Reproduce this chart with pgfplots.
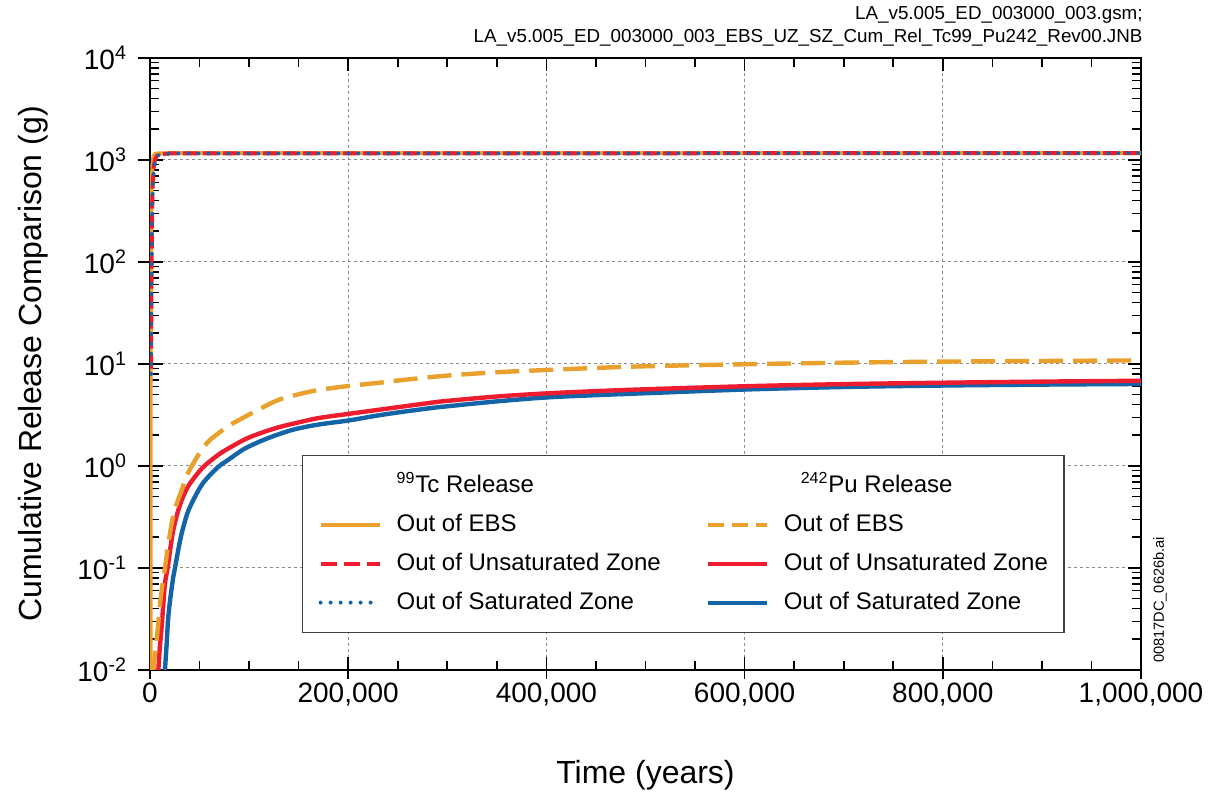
\documentclass[border=0pt]{standalone}
\usepackage{pgfplots}
\pgfplotsset{compat=1.18}
\usepackage{fontspec}
\setmainfont{Liberation Sans}
\definecolor{cOr}{RGB}{233,160,45}
\definecolor{cRd}{RGB}{237,28,46}
\definecolor{cBl}{RGB}{20,100,168}

\pgfplotstableread{
x y
500 0.008
600 1
800 30
1200 200
1800 600
2500 900
3500 1080
5000 1140
8000 1160
20000 1165
1000000 1170
}\TcEBS
\pgfplotstableread{
x y
1000 9
1200 20
1500 60
1800 150
2200 350
2800 600
3800 850
5000 1000
7000 1100
10000 1140
20000 1160
1000000 1168
}\TcUZ
\pgfplotstableread{
x y
1100 8
1300 20
1600 60
2000 150
2400 350
3000 600
4000 850
5500 1000
7500 1100
11000 1140
22000 1160
1000000 1168
}\TcSZ
\pgfplotstableread{
x y
3000 0.009
3400 0.01
5000 0.014
6700 0.0197
8500 0.03
10100 0.045
12500 0.068
15100 0.1
18000 0.16
21900 0.274
26000 0.4
32000 0.58
37000 0.8
43700 1.06
52000 1.44
60000 1.78
69000 2.09
80000 2.5
96000 3.04
110000 3.6
129500 4.44
150000 5.05
170000 5.56
200000 6.08
232000 6.56
257000 7.0
300000 7.7
350000 8.3
400000 8.73
450000 9.15
500000 9.5
600000 9.94
700000 10.3
800000 10.55
900000 10.7
1000000 10.85
}\PuEBS
\pgfplotstableread{
x y
8000 0.009
8400 0.01
10000 0.017
11800 0.0266
13500 0.045
15100 0.0708
17800 0.1
20500 0.155
23500 0.236
27500 0.34
32000 0.464
38000 0.62
45400 0.785
53000 0.96
62300 1.15
72000 1.35
82400 1.55
97000 1.85
112700 2.12
130000 2.4
146000 2.62
170000 2.95
200000 3.24
230000 3.55
257000 3.85
286000 4.2
300000 4.35
350000 4.8
400000 5.15
450000 5.42
500000 5.65
600000 6.05
700000 6.35
800000 6.55
900000 6.72
1000000 6.85
}\PuUZ
\pgfplotstableread{
x y
14800 0.009
15100 0.01
16800 0.018
18500 0.0334
21000 0.055
23500 0.082
25200 0.1
28500 0.15
32000 0.219
38000 0.35
45400 0.5
53000 0.67
62300 0.85
70000 1.0
79000 1.15
95000 1.47
112700 1.77
130000 2.05
146000 2.29
170000 2.55
200000 2.79
230000 3.13
257000 3.42
286000 3.72
300000 3.85
350000 4.3
400000 4.7
450000 4.95
500000 5.17
600000 5.62
700000 5.95
800000 6.15
900000 6.28
1000000 6.37
}\PuSZ

\begin{document}
\begin{tikzpicture}
\useasboundingbox (-75pt,-65.5pt) rectangle (530.5pt,335pt);
\begin{axis}[
  name=ax,
  at={(0pt,0pt)}, anchor=south west,
  width=495.5pt, height=306pt, scale only axis,
  xmin=0, xmax=1000000,
  ymode=log, ymin=0.01, ymax=10000,
  xtick={0,200000,400000,600000,800000,1000000},
  xticklabels={0,{200,000},{400,000},{600,000},{800,000},{1,000,000}},
  minor xtick={50000,100000,150000,250000,300000,350000,450000,500000,550000,650000,700000,750000,850000,900000,950000},
  scaled x ticks=false,
  ytick={0.01,0.1,1,10,100,1000,10000},
  yticklabels={10\textsuperscript{-2},10\textsuperscript{-1},10\textsuperscript{0},10\textsuperscript{1},10\textsuperscript{2},10\textsuperscript{3},10\textsuperscript{4}},
  minor ytick={0.02,0.03,0.04,0.05,0.06,0.07,0.08,0.09,0.2,0.3,0.4,0.5,0.6,0.7,0.8,0.9,2,3,4,5,6,7,8,9,20,30,40,50,60,70,80,90,200,300,400,500,600,700,800,900,2000,3000,4000,5000,6000,7000,8000,9000},
  extra x ticks={0,200000,400000,600000,800000,1000000},
  extra x tick labels={,,,,,},
  extra x tick style={tick align=outside, tick pos=left, grid=none, major tick length=4.5pt},
  extra y ticks={0.01,0.1,1,10,100,1000,10000},
  extra y tick labels={,,,,,,},
  extra y tick style={tick align=outside, tick pos=left, grid=none, major tick length=6pt},
  tick align=inside,
  major tick length=6.5pt,
  minor tick length=4.5pt,
  tick style={black, line width=0.8pt},
  axis line style={line width=1.2pt},
  grid=major,
  major grid style={black!45, line width=0.5pt, dash pattern=on 1.5pt off 1.5pt},
  tick label style={font=\fontsize{14}{16}\selectfont},
  yticklabel style={xshift=-8pt},
  xticklabel style={yshift=-3pt},
  xlabel={Time (years)},
  ylabel={Cumulative Release Comparison (g)},
  label style={font=\fontsize{16}{19}\selectfont},
  xlabel style={at={(axis description cs:0.5,-0.1716)}, anchor=center},
  ylabel style={at={(axis description cs:-0.118,0.5)}, anchor=center},
  legend columns=2,
  legend cell align=left,
  legend image code/.code={\draw[#1] (0pt,0pt) -- (29.5pt,0pt);},
  legend style={at={(0.1534,0.3513)}, anchor=north west, draw=black!75, line width=0.6pt,
    inner xsep=8pt, inner ysep=9.25pt, font=\fontsize{12}{14}\selectfont,
    nodes={inner sep=0pt, text height=9pt, text depth=2.5pt},
    row sep=8pt,
    /tikz/every odd column/.append style={column sep=7.5pt},
    /tikz/every even column/.append style={column sep=22.5pt}},
]
\addplot[forget plot, cOr, line width=2pt] table[x=x,y=y] {\TcEBS};
\addplot[forget plot, cRd, line width=2pt, dash pattern=on 7pt off 3pt] table[x=x,y=y] {\TcUZ};
\addplot[forget plot, cBl, line width=2pt, line cap=round, dash pattern=on 0pt off 5pt] table[x=x,y=y] {\TcSZ};
\addplot[forget plot, smooth, cBl, line width=2.2pt] table[x=x,y=y] {\PuSZ};
\addplot[forget plot, smooth, cRd, line width=2.2pt] table[x=x,y=y] {\PuUZ};
\addplot[forget plot, smooth, cOr, line width=2.2pt, dash pattern=on 12pt off 5pt] table[x=x,y=y] {\PuEBS};

\addlegendimage{empty legend}
\addlegendentry{\textsuperscript{99}Tc Release}
\addlegendimage{empty legend}
\addlegendentry{\hspace*{8.5pt}\textsuperscript{242}Pu Release}
\addlegendimage{cOr, line width=2pt}
\addlegendentry{Out of EBS}
\addlegendimage{cOr, line width=2pt, dash pattern=on 8pt off 4pt}
\addlegendentry{Out of EBS}
\addlegendimage{cRd, line width=2pt, dash pattern=on 8pt off 3.5pt}
\addlegendentry{Out of Unsaturated Zone}
\addlegendimage{cRd, line width=2pt}
\addlegendentry{Out of Unsaturated Zone}
\addlegendimage{cBl, line width=2pt, line cap=round, dash pattern=on 0pt off 5pt}
\addlegendentry{Out of Saturated Zone}
\addlegendimage{cBl, line width=2pt}
\addlegendentry{Out of Saturated Zone}
\end{axis}
\node[anchor=east, font=\fontsize{9.4}{11}\selectfont, inner sep=0pt] at ([xshift=1pt,yshift=21.5pt]ax.north east) {LA\_v5.005\_ED\_003000\_003.gsm;};
\node[anchor=east, font=\fontsize{9.4}{11}\selectfont, inner sep=0pt] at ([xshift=1pt,yshift=10pt]ax.north east) {LA\_v5.005\_ED\_003000\_003\_EBS\_UZ\_SZ\_Cum\_Rel\_Tc99\_Pu242\_Rev00.JNB};
\node[rotate=90, font=\fontsize{7.3}{9}\selectfont, inner sep=0pt] at ([xshift=9.5pt,yshift=35pt]ax.south east) {00817DC\_0626b.ai};
\end{tikzpicture}
\end{document}
